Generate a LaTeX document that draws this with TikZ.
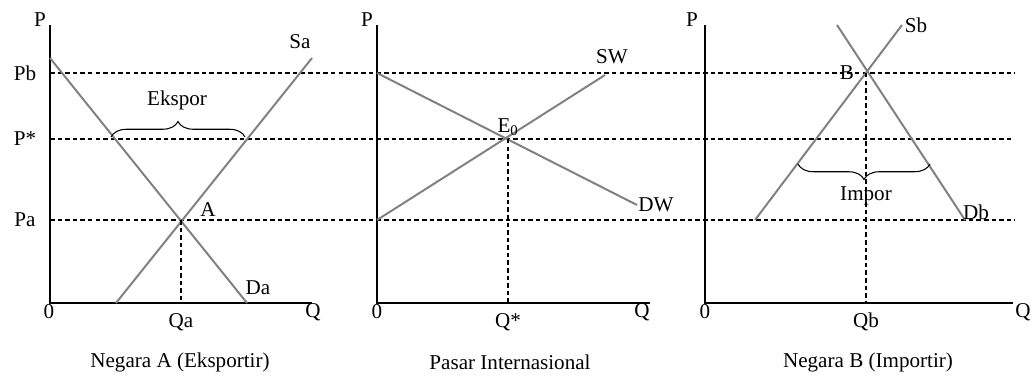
\documentclass[tikz,border=0pt]{standalone}
\usepackage{fontspec}
\setmainfont{Liberation Serif}
\usepackage{xcolor}
\usepackage{tikz}
\usetikzlibrary{decorations.pathreplacing}
\definecolor{curvegray}{gray}{0.5}

\begin{document}
\begin{tikzpicture}[x=0.025cm, y=-0.025cm,
    axis/.style={line width=1pt},
    curve/.style={draw=curvegray, line width=1.4pt},
    guide/.style={line width=0.75pt, dash pattern=on 3.2pt off 2.2pt},
    lbl/.style={inner sep=0pt, font=\fontsize{15}{17}\selectfont},
    brc/.style={decorate, decoration={brace, amplitude=11pt}, line width=0.75pt},
]
    \useasboundingbox (0,0) rectangle (1032,380);

    % Price levels shared by all three panels
    \coordinate (pbL) at (50,73);   \coordinate (pbR) at (1015,73);
    \coordinate (psL) at (50,139);  \coordinate (psR) at (1012,139);
    \coordinate (paL) at (50,220);  \coordinate (paR) at (1015,220);
    \draw[guide] (pbL) -- (pbR);
    \draw[guide] (psL) -- (psR);
    \draw[guide] (paL) -- (paR);

    % Negara A
    \coordinate (topA) at (50,25);
    \coordinate (orgA) at (50,303);
    \coordinate (endA) at (312,303);
    \coordinate (daT) at (50,58);   \coordinate (daB) at (247,303);
    \coordinate (saB) at (116,303); \coordinate (saT) at (312,58);
    \coordinate (ptA) at (181,220); \coordinate (qaB) at (181,303);
    \draw[axis] (topA) -- (orgA) -- (endA);
    \draw[curve] (daT) -- (daB);
    \draw[curve] (saB) -- (saT);
    \draw[guide] (ptA) -- (qaB);
    \coordinate (brAL) at (111,137); \coordinate (brAR) at (245,137);
    \draw[brc] (brAL) -- (brAR);

    \node[lbl] (labPA) at (40,20) {P};
    \node[lbl] (labPb) at (25,73) {Pb};
    \node[lbl] (labPs) at (25,139) {P*};
    \node[lbl] (labPa) at (25,220) {Pa};
    \node[lbl] (labOA) at (49,312) {0};
    \node[lbl] (labQa) at (181,322) {Qa};
    \node[lbl] (labQA) at (313,312) {Q};
    \node[lbl] (labSa) at (300,42) {Sa};
    \node[lbl] (labDa) at (258,288) {Da};
    \node[lbl] (labA) at (208,210) {A};
    \node[lbl] (labEks) at (177,100) {Ekspor};
    \node[lbl] (capA) at (180,362) {Negara A (Eksportir)};

    % Pasar Internasional
    \coordinate (topW) at (377,25);
    \coordinate (orgW) at (377,303);
    \coordinate (endW) at (650,303);
    \coordinate (dwT) at (377,73);  \coordinate (dwB) at (637,205);
    \coordinate (swB) at (377,220); \coordinate (swT) at (605,75);
    \coordinate (ptE) at (508,139); \coordinate (qsB) at (508,303);
    \draw[axis] (topW) -- (orgW) -- (endW);
    \draw[curve] (dwT) -- (dwB);
    \draw[curve] (swB) -- (swT);
    \draw[guide] (ptE) -- (qsB);

    \node[lbl] (labPW) at (367,20) {P};
    \node[lbl] (labSW) at (612,57) {SW};
    \node[lbl] (labE) at (508,127) {E\textsubscript{0}};
    \node[lbl] (labDW) at (656,205) {DW};
    \node[lbl] (labOW) at (377,312) {0};
    \node[lbl] (labQs) at (508,322) {Q*};
    \node[lbl] (labQW) at (642,312) {Q};
    \node[lbl] (capW) at (510,362) {Pasar Internasional};

    % Negara B
    \coordinate (topB) at (705,25);
    \coordinate (orgB) at (705,303);
    \coordinate (endB) at (1013,303);
    \coordinate (sbB) at (755,220); \coordinate (sbT) at (902,25);
    \coordinate (dbT) at (837,25);  \coordinate (dbB) at (965,220);
    \coordinate (ptB) at (866,73);  \coordinate (qbB) at (866,303);
    \draw[axis] (topB) -- (orgB) -- (endB);
    \draw[curve] (sbB) -- (sbT);
    \draw[curve] (dbT) -- (dbB);
    \draw[guide] (ptB) -- (qbB);
    \coordinate (brBR) at (930,164); \coordinate (brBL) at (798,164);
    \draw[brc] (brBR) -- (brBL);

    \node[lbl] (labPB) at (692,20) {P};
    \node[lbl] (labSb) at (916,25) {Sb};
    \node[lbl] (labB) at (847,73) {B};
    \node[lbl] (labDb) at (976,212) {Db};
    \node[lbl] (labImp) at (866,196) {Impor};
    \node[lbl] (labOB) at (705,312) {0};
    \node[lbl] (labQb) at (866,322) {Qb};
    \node[lbl] (labQB) at (1023,312) {Q};
    \node[lbl] (capB) at (868,362) {Negara B (Importir)};
\end{tikzpicture}
\end{document}
